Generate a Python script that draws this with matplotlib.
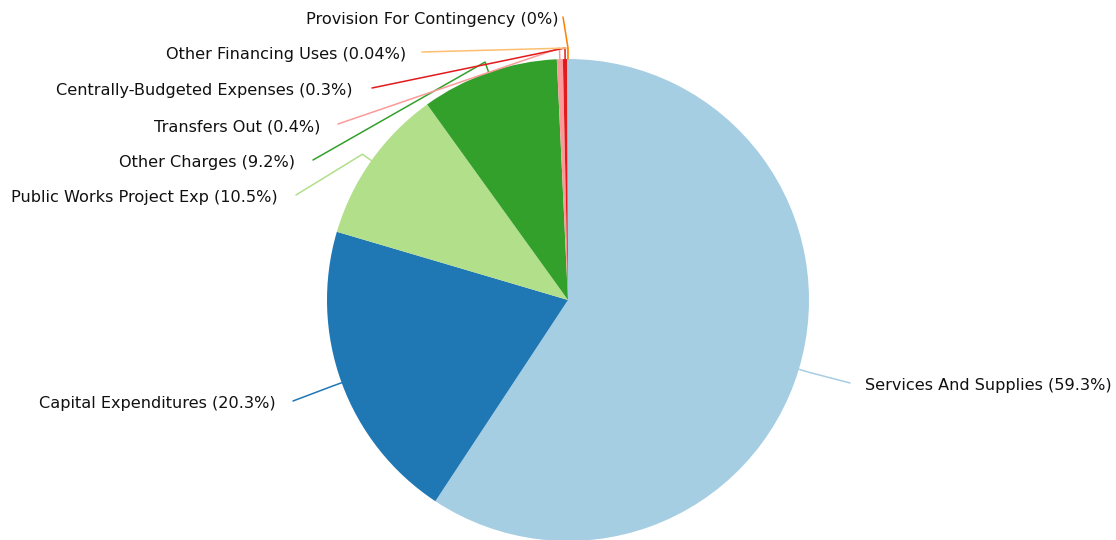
import numpy as np
import matplotlib
matplotlib.use("Agg")
import matplotlib.pyplot as plt

# --- data ---
categories = ["Services And Supplies", "Capital Expenditures", "Public Works Project Exp",
              "Other Charges", "Transfers Out", "Centrally-Budgeted Expenses",
              "Other Financing Uses", "Provision For Contingency"]
shares = [59.3, 20.3, 10.5, 9.2, 0.4, 0.3, 0.04, 0.0]
pct_labels = ["59.3%", "20.3%", "10.5%", "9.2%", "0.4%", "0.3%", "0.04%", "0%"]
colors = ["#a6cee3", "#1f78b4", "#b2df8a", "#33a02c", "#fb9a99", "#e31a1c", "#fdbf6f", "#ff7f00"]

# leader end points in pixel space (x, y from top), side and gap to text
label_pos = [(850, 383), (293, 401), (296, 195), (313, 160), (338, 124), (372, 88), (422, 52), (563, 17)]
label_side = ["right", "left", "left", "left", "left", "left", "left", "left"]
label_gap = [15, 17, 18, 18, 18, 19, 16, 5]

W, H = 1116, 540
cx, cy, R = 568, 240, 241  # pie centre in data coords (y up)

fig = plt.figure(figsize=(W / 100, H / 100), dpi=100)
ax = fig.add_axes([0, 0, 1, 1])

ax.pie(shares, colors=colors, startangle=90, counterclock=False,
       center=(cx, cy), radius=R, frame=True,
       wedgeprops=dict(linewidth=0))
ax.set_xlim(0, W)
ax.set_ylim(0, H)
ax.set_aspect("equal")
ax.axis("off")

total = sum(shares)
cum = 0.0
for name, val, pct, col, (lx, ly), side, gap in zip(categories, shares, pct_labels, colors,
                                                     label_pos, label_side, label_gap):
    mid = (cum + val / 2) / total * 2 * np.pi  # clockwise from top
    cum += val
    sx, sy = np.sin(mid), np.cos(mid)
    p0 = (cx + R * sx, cy + R * sy)
    p1 = (cx + (R + 11) * sx, cy + (R + 11) * sy)
    ly_d = H - ly
    ax.plot([p0[0], p1[0], lx], [p0[1], p1[1], ly_d], color=col, lw=1.1,
            solid_capstyle="round", solid_joinstyle="round")
    ty = ly_d - 2.5  # text sits a bit below the leader end
    if side == "left":
        ax.text(lx - gap, ty, f"{name} ({pct})", ha="right", va="center",
                fontsize=11.6, color="#111111")
    else:
        ax.text(lx + gap, ty, f"{name} ({pct})", ha="left", va="center",
                fontsize=11.6, color="#111111")

fig.savefig("out.png", dpi=100, facecolor="white")
